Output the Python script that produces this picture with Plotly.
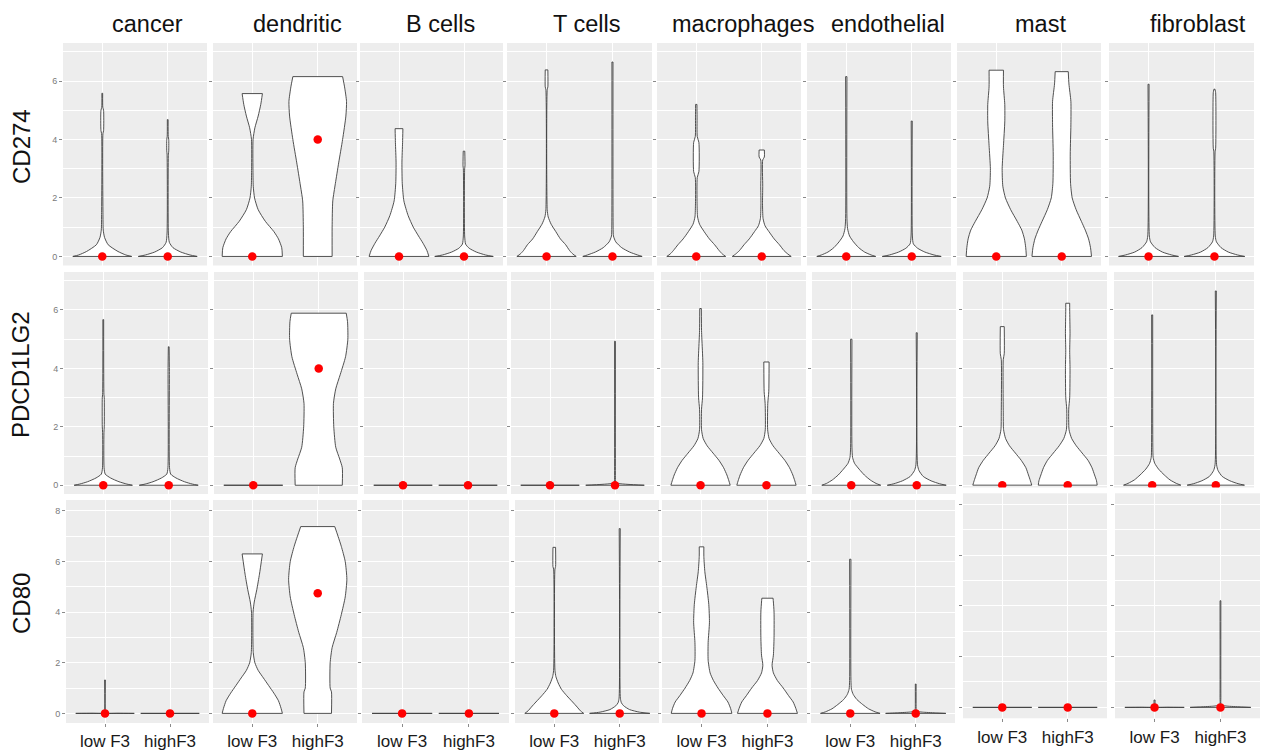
import plotly.graph_objects as go

W, H = 1263, 751

CELL_TYPES = ["cancer", "dendritic", "B cells", "T cells",
              "macrophages", "endothelial", "mast", "fibroblast"]
GENES = ["CD274", "PDCD1LG2", "CD80"]
GROUPS = ["low F3", "highF3"]

# median expression per cell type: [low F3, highF3]
MEDIAN_CD274 = [[0, 0], [0, 4.0], [0, 0], [0, 0], [0, 0], [0, 0], [0, 0], [0, 0]]
MEDIAN_PDCD1LG2 = [[0, 0], [0, 4.0], [0, 0], [0, 0], [0, 0], [0, 0], [0, 0], [0, 0]]
MEDIAN_CD80 = [[0, 0], [0, 4.75], [0, 0], [0, 0], [0, 0], [0, 0], [0, 0], [0, 0]]

# violin outlines: [expression, half-width] pairs, bottom to top
FLAT = [[0, 0.45]]

CD274_VIOLINS = {
    "cancer": (
        [[0, 0.45], [0.05, 0.36], [0.17, 0.24], [0.4, 0.09], [0.65, 0.035], [0.9, 0.015],
         [1.5, 0.01], [4.2, 0.01], [4.3, 0.02], [5.0, 0.02], [5.1, 0.008], [5.58, 0.006]],
        [[0, 0.45], [0.05, 0.34], [0.15, 0.2], [0.3, 0.08], [0.48, 0.025], [0.8, 0.01],
         [3.5, 0.01], [3.6, 0.015], [4.0, 0.015], [4.1, 0.008], [4.68, 0.006]]),
    "dendritic": (
        [[0, 0.46], [0.3, 0.45], [0.6, 0.40], [0.85, 0.33], [1.2, 0.2], [1.6, 0.09],
         [2.0, 0.035], [2.4, 0.015], [3.0, 0.01], [4.0, 0.012], [4.4, 0.04], [4.8, 0.09],
         [5.2, 0.13], [5.57, 0.155]],
        [[0, 0.22], [1.0, 0.22], [1.9, 0.23], [2.5, 0.27], [3.2, 0.32], [4.0, 0.38],
         [4.8, 0.43], [5.3, 0.44], [5.8, 0.41], [6.15, 0.38]]),
    "B cells": (
        [[0, 0.46], [0.2, 0.43], [0.45, 0.37], [0.7, 0.30], [1.0, 0.22], [1.4, 0.14],
         [1.9, 0.075], [2.5, 0.05], [3.2, 0.045], [3.9, 0.055], [4.37, 0.06]],
        [[0, 0.45], [0.05, 0.33], [0.15, 0.19], [0.28, 0.08], [0.42, 0.025], [0.7, 0.01],
         [3.0, 0.01], [3.1, 0.015], [3.6, 0.012]]),
    "T cells": (
        [[0, 0.45], [0.08, 0.40], [0.2, 0.35], [0.4, 0.29], [0.6, 0.21], [0.85, 0.14],
         [1.1, 0.07], [1.35, 0.025], [1.6, 0.01], [5.7, 0.01], [5.8, 0.02], [6.38, 0.02]],
        [[0, 0.45], [0.05, 0.38], [0.15, 0.26], [0.3, 0.14], [0.5, 0.05], [0.7, 0.015],
         [1.0, 0.01], [6.65, 0.008]]),
    "macrophages": (
        [[0, 0.45], [0.08, 0.40], [0.2, 0.35], [0.4, 0.28], [0.6, 0.2], [0.85, 0.12],
         [1.1, 0.05], [1.35, 0.02], [1.8, 0.012], [2.7, 0.015], [2.9, 0.04], [3.9, 0.04],
         [4.1, 0.015], [4.8, 0.012], [5.2, 0.01]],
        [[0, 0.45], [0.08, 0.40], [0.2, 0.34], [0.4, 0.27], [0.6, 0.19], [0.85, 0.11],
         [1.05, 0.05], [1.3, 0.02], [1.8, 0.012], [2.4, 0.015], [3.3, 0.015], [3.4, 0.04],
         [3.64, 0.04]]),
    "endothelial": (
        [[0, 0.45], [0.05, 0.38], [0.15, 0.28], [0.3, 0.19], [0.5, 0.11], [0.7, 0.05],
         [0.95, 0.02], [1.3, 0.01], [6.15, 0.01]],
        [[0, 0.45], [0.05, 0.34], [0.15, 0.2], [0.28, 0.09], [0.43, 0.025], [0.7, 0.01],
         [4.63, 0.008]]),
    "mast": (
        [[0, 0.46], [0.3, 0.45], [0.6, 0.43], [0.9, 0.39], [1.2, 0.32], [1.6, 0.22],
         [2.0, 0.14], [2.4, 0.1], [3.0, 0.09], [3.8, 0.11], [4.6, 0.13], [5.2, 0.13],
         [5.8, 0.11], [6.37, 0.11]],
        [[0, 0.455], [0.3, 0.44], [0.6, 0.41], [0.9, 0.36], [1.2, 0.3], [1.6, 0.22],
         [2.0, 0.16], [2.5, 0.135], [3.5, 0.13], [4.5, 0.14], [5.3, 0.14], [5.9, 0.11],
         [6.32, 0.1]]),
    "fibroblast": (
        [[0, 0.455], [0.05, 0.35], [0.15, 0.21], [0.3, 0.1], [0.5, 0.03], [0.7, 0.012],
         [5.89, 0.008]],
        [[0, 0.46], [0.05, 0.35], [0.15, 0.21], [0.3, 0.1], [0.5, 0.03], [0.7, 0.012],
         [3.6, 0.01], [3.7, 0.018], [5.6, 0.018], [5.72, 0.008]]),
}

PDCD1LG2_VIOLINS = {
    "cancer": (
        [[0, 0.445], [0.04, 0.36], [0.12, 0.24], [0.25, 0.11], [0.38, 0.03], [0.6, 0.012],
         [1.8, 0.01], [2.0, 0.015], [3.0, 0.015], [3.1, 0.01], [5.67, 0.006]],
        [[0, 0.45], [0.04, 0.36], [0.12, 0.24], [0.25, 0.11], [0.38, 0.03], [0.6, 0.012],
         [3.9, 0.01], [4.74, 0.006]]),
    "dendritic": (
        FLAT,
        [[0, 0.36], [0.6, 0.36], [0.9, 0.32], [1.3, 0.26], [2.0, 0.23], [2.8, 0.225],
         [3.3, 0.26], [3.8, 0.33], [4.4, 0.41], [5.0, 0.445], [5.6, 0.44], [5.89, 0.42]]),
    "B cells": (FLAT, FLAT),
    "T cells": (
        FLAT,
        [[0, 0.45], [0.03, 0.2], [0.06, 0.05], [0.1, 0.012], [0.2, 0.007], [0.5, 0.006],
         [4.93, 0.006]]),
    "macrophages": (
        [[0, 0.45], [0.15, 0.43], [0.35, 0.40], [0.6, 0.35], [0.85, 0.28], [1.1, 0.19],
         [1.35, 0.1], [1.6, 0.04], [1.9, 0.015], [2.6, 0.015], [3.0, 0.03], [4.2, 0.035],
         [5.0, 0.02], [5.3, 0.015], [6.05, 0.012]],
        [[0, 0.45], [0.15, 0.43], [0.35, 0.40], [0.6, 0.35], [0.85, 0.28], [1.1, 0.19],
         [1.35, 0.1], [1.6, 0.04], [1.9, 0.018], [2.8, 0.02], [3.2, 0.035], [4.22, 0.04]]),
    "endothelial": (
        [[0, 0.45], [0.06, 0.38], [0.18, 0.29], [0.35, 0.2], [0.55, 0.12], [0.75, 0.05],
         [0.95, 0.02], [1.3, 0.01], [5.0, 0.01]],
        [[0, 0.45], [0.05, 0.35], [0.15, 0.22], [0.3, 0.1], [0.5, 0.035], [0.7, 0.012],
         [5.22, 0.008]]),
    "mast": (
        [[0, 0.45], [0.15, 0.43], [0.35, 0.40], [0.6, 0.36], [0.85, 0.29], [1.1, 0.2],
         [1.35, 0.11], [1.6, 0.05], [1.9, 0.02], [2.5, 0.015], [4.3, 0.015], [4.5, 0.03],
         [5.43, 0.03]],
        [[0, 0.45], [0.15, 0.44], [0.35, 0.41], [0.6, 0.37], [0.85, 0.31], [1.1, 0.22],
         [1.35, 0.13], [1.6, 0.06], [1.9, 0.02], [2.6, 0.015], [3.0, 0.03], [4.0, 0.035],
         [4.6, 0.03], [5.2, 0.035], [6.0, 0.03], [6.23, 0.03]]),
    "fibroblast": (
        [[0, 0.45], [0.06, 0.38], [0.18, 0.28], [0.35, 0.19], [0.55, 0.1], [0.75, 0.04],
         [0.95, 0.015], [1.3, 0.01], [5.83, 0.008]],
        [[0, 0.45], [0.05, 0.35], [0.15, 0.22], [0.3, 0.1], [0.5, 0.035], [0.7, 0.012],
         [6.65, 0.008]]),
}

CD80_VIOLINS = {
    "cancer": (
        [[0, 0.45], [0.005, 0.2], [0.01, 0.012], [0.05, 0.006], [1.32, 0.006]],
        FLAT),
    "dendritic": (
        [[0, 0.46], [0.2, 0.44], [0.5, 0.40], [0.8, 0.33], [1.1, 0.25], [1.4, 0.17],
         [1.7, 0.09], [2.0, 0.04], [2.4, 0.015], [4.0, 0.012], [4.4, 0.03], [4.9, 0.07],
         [5.5, 0.11], [6.3, 0.155]],
        [[0, 0.21], [0.85, 0.21], [1.0, 0.19], [2.0, 0.19], [2.6, 0.22], [3.2, 0.29],
         [3.9, 0.36], [4.6, 0.42], [5.3, 0.445], [6.0, 0.42], [6.6, 0.36], [7.0, 0.31],
         [7.38, 0.26]]),
    "B cells": (FLAT, FLAT),
    "T cells": (
        [[0, 0.45], [0.1, 0.40], [0.25, 0.35], [0.45, 0.28], [0.7, 0.19], [0.95, 0.11],
         [1.2, 0.06], [1.45, 0.025], [1.7, 0.01], [5.7, 0.01], [5.8, 0.02], [6.56, 0.02]],
        [[0, 0.46], [0.05, 0.3], [0.15, 0.15], [0.3, 0.06], [0.42, 0.025], [0.6, 0.01],
         [7.3, 0.008]]),
    "macrophages": (
        [[0, 0.46], [0.2, 0.44], [0.45, 0.40], [0.7, 0.33], [1.0, 0.25], [1.3, 0.18],
         [1.6, 0.13], [2.1, 0.1], [2.8, 0.1], [3.6, 0.12], [4.3, 0.11], [5.0, 0.08],
         [5.6, 0.05], [6.2, 0.035], [6.58, 0.035]],
        [[0, 0.455], [0.2, 0.43], [0.45, 0.39], [0.7, 0.32], [1.0, 0.24], [1.3, 0.15],
         [1.6, 0.09], [1.9, 0.07], [2.3, 0.09], [3.0, 0.1], [4.0, 0.1], [4.4, 0.09],
         [4.55, 0.085]]),
    "endothelial": (
        [[0, 0.455], [0.06, 0.38], [0.18, 0.28], [0.35, 0.19], [0.55, 0.1], [0.75, 0.045],
         [0.95, 0.018], [1.3, 0.01], [6.09, 0.01]],
        [[0, 0.46], [0.02, 0.3], [0.05, 0.1], [0.08, 0.02], [0.15, 0.008], [0.4, 0.006],
         [1.16, 0.006]]),
    "mast": (FLAT, FLAT),
    "fibroblast": (
        [[0, 0.45], [0.005, 0.2], [0.01, 0.012], [0.05, 0.008], [0.29, 0.008]],
        [[0, 0.46], [0.02, 0.3], [0.05, 0.1], [0.08, 0.03], [0.12, 0.008], [0.4, 0.006],
         [4.2, 0.006]]),
}

VIOLINS = [CD274_VIOLINS, PDCD1LG2_VIOLINS, CD80_VIOLINS]
MEDIANS = [MEDIAN_CD274, MEDIAN_PDCD1LG2, MEDIAN_CD80]

# ---- panel geometry (pixels) ----
PANEL_X = [
    [(63, 207), (213, 357), (360, 503), (507, 652), (657, 801), (807, 951), (957, 1101), (1109, 1254)],
    [(64, 208), (214, 358), (364, 507), (511, 654), (661, 806), (812, 956), (963, 1107), (1114, 1254)],
    [(66, 209), (213, 357), (362, 509), (515, 659), (662, 807), (811, 955), (963, 1107), (1115, 1260)],
]
# (top px, bottom px, y at bottom, y at top)
ROW_Y = [
    (43, 265.5, -0.31, 7.3),
    (272, 494, -0.30, 7.3),
    (500, 723, -0.38, 8.43),
]
PANEL_Y_OVERRIDE = {
    (1, 6): (272, 487.5, -0.08, 7.3),
    (1, 7): (272, 487.5, -0.08, 7.3),
    (2, 6): (493.3, 718.3, -0.43, 8.43),
    (2, 7): (493.3, 718.3, -0.43, 8.43),
}
ROW_TICKS = [[0, 2, 4, 6], [0, 2, 4, 6], [0, 2, 4, 6, 8]]

TITLE_X = [147, 297, 440, 586, 743, 888, 1040, 1198]
ROW_LABEL_Y = [147, 375, 604]

PANEL_BG = "#EDEDED"
OUTLINE = "#3d3d3d"
SIDE = dict(color=OUTLINE, width=0.9, shape="spline", smoothing=0.6)

fig = go.Figure()
layout = {}

for r, gene in enumerate(GENES):
    for c, cell in enumerate(CELL_TYPES):
        k = r * 8 + c + 1
        xs = "" if k == 1 else str(k)
        x0, x1 = PANEL_X[r][c]
        top, bot, ylo, yhi = PANEL_Y_OVERRIDE.get((r, c), ROW_Y[r])

        layout["xaxis" + xs] = dict(
            domain=[x0 / W, x1 / W], anchor="y" + xs, range=[0.4, 2.6],
            tickvals=[1, 2], ticktext=GROUPS,
            showticklabels=(r == 2), ticks="outside" if r == 2 else "",
            ticklen=3, tickcolor="#8a8a8a",
            tickfont=dict(family="Liberation Sans, Arial", size=17, color="#1a1a1a"),
            showgrid=True, gridcolor="white", gridwidth=1.1,
            zeroline=False, showline=False, fixedrange=True,
        )
        layout["yaxis" + xs] = dict(
            domain=[1 - bot / H, 1 - top / H], anchor="x" + xs, range=[ylo, yhi],
            tickvals=ROW_TICKS[r], showticklabels=(c == 0),
            ticks="outside", ticklen=3, tickcolor="#8a8a8a",
            tickfont=dict(family="Liberation Sans, Arial", size=9, color="#7a7a7a"),
            showgrid=True, gridcolor="white", gridwidth=1.1,
            minor=dict(dtick=1, tick0=0, showgrid=True, gridcolor="white", gridwidth=0.5),
            zeroline=False, showline=False, fixedrange=True,
        )

        profiles = VIOLINS[r][cell]
        for g in range(2):
            prof = profiles[g]
            centre = g + 1
            ys = [y for y, _ in prof]
            left = [centre - hw for _, hw in prof]
            right = [centre + hw for _, hw in prof]
            # left flank, then right flank filled horizontally back to it
            fig.add_trace(go.Scatter(
                x=left, y=ys, xaxis="x" + xs, yaxis="y" + xs,
                mode="lines", line=SIDE, hoverinfo="skip", showlegend=False,
            ))
            fig.add_trace(go.Scatter(
                x=right, y=ys, xaxis="x" + xs, yaxis="y" + xs,
                mode="lines", line=SIDE, fill="tonextx", fillcolor="white",
                hoverinfo="skip", showlegend=False,
            ))
            # flat bottom and top edges
            fig.add_trace(go.Scatter(
                x=[left[0], right[0], None, left[-1], right[-1]],
                y=[ys[0], ys[0], None, ys[-1], ys[-1]],
                xaxis="x" + xs, yaxis="y" + xs, mode="lines",
                line=dict(color=OUTLINE, width=0.9),
                hoverinfo="skip", showlegend=False,
            ))
        fig.add_trace(go.Scatter(
            x=[1, 2], y=MEDIANS[r][c], xaxis="x" + xs, yaxis="y" + xs,
            mode="markers", marker=dict(color="#FF0000", size=8.5),
            showlegend=False, hoverinfo="skip",
        ))

annotations = []
for c, cell in enumerate(CELL_TYPES):
    annotations.append(dict(
        x=TITLE_X[c] / W, y=1 - 24 / H, xref="paper", yref="paper",
        text=cell, showarrow=False, xanchor="center", yanchor="middle",
        font=dict(family="Liberation Sans, Arial", size=23.5, color="#111111"),
    ))
for r, gene in enumerate(GENES):
    annotations.append(dict(
        x=21 / W, y=1 - ROW_LABEL_Y[r] / H, xref="paper", yref="paper",
        text=gene, showarrow=False, textangle=-90, xanchor="center", yanchor="middle",
        font=dict(family="Liberation Sans, Arial", size=24, color="#111111"),
    ))

fig.update_layout(
    width=W, height=H, margin=dict(l=0, r=0, t=0, b=0),
    paper_bgcolor="white", plot_bgcolor=PANEL_BG,
    annotations=annotations, showlegend=False,
    **layout,
)

fig.write_html("out.html", config=dict(displayModeBar=False))
